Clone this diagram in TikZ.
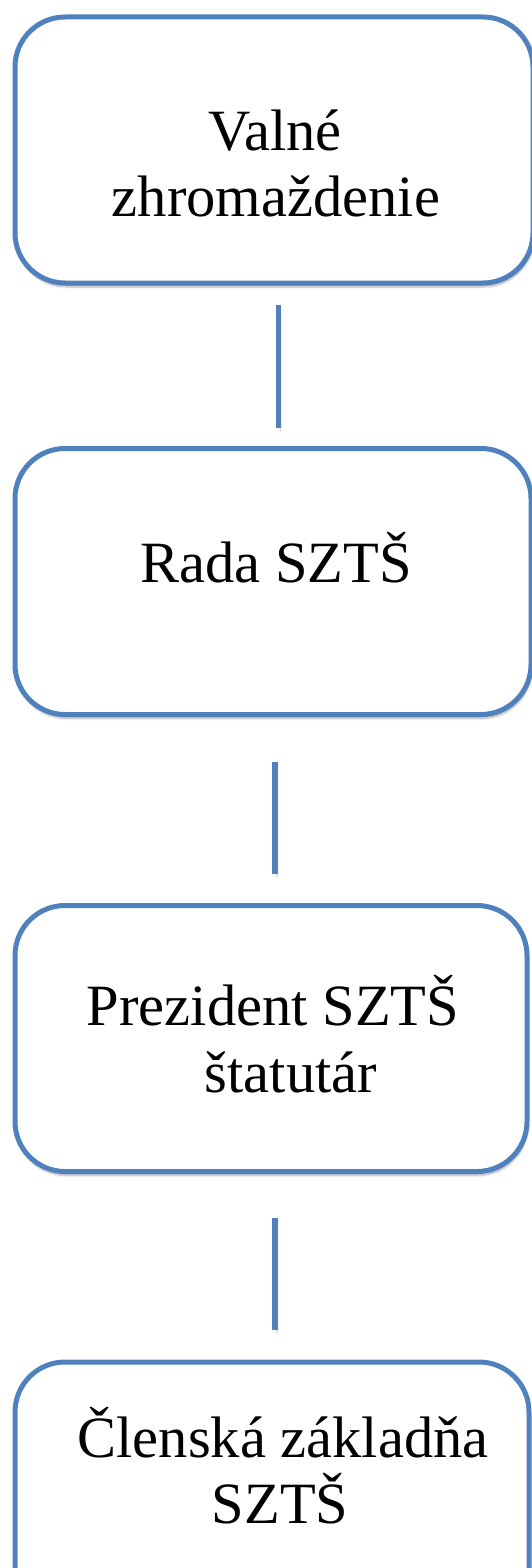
\documentclass[tikz,border=0pt]{standalone}
\usepackage{fontspec}
\setmainfont{Liberation Serif}
\usetikzlibrary{shadows.blur}
\definecolor{boxblue}{HTML}{4F81BD}
\begin{document}
\begin{tikzpicture}[x=1pt,y=-1pt,
  orgbox/.style={draw=boxblue, line width=5pt, fill=white, rounded corners=50pt,
    minimum height=266pt, inner sep=0pt,
    blur shadow={shadow xshift=1pt, shadow yshift=-4pt, shadow blur steps=6, shadow opacity=30}},
  lbl/.style={anchor=base, inner sep=0pt, font=\fontsize{58.5}{66}\selectfont},
  conn/.style={draw=boxblue, line width=5.3pt,
    blur shadow={shadow xshift=2pt, shadow yshift=-3pt, shadow blur steps=6, shadow opacity=25}}]
\useasboundingbox (0,0) rectangle (531,1568);
\node[orgbox, minimum width=518pt] (b1) at (274,150) {};
\node[orgbox, minimum width=516pt] (b2) at (273,581.5) {};
\node[orgbox, minimum width=512pt] (b3) at (271,1038.5) {};
\node[orgbox, minimum width=514pt] (b4) at (272,1495) {};
\node[lbl] (t1a) at (275,150) {Valné};
\node[lbl] (t1b) at (276,216) {zhromaždenie};
\node[lbl] (t2) at (276,582) {Rada SZTŠ};
\node[lbl] (t3a) at (273,1025) {Prezident SZTŠ};
\node[lbl] (t3b) at (291,1092) {štatutár};
\node[lbl] (t4a) at (283,1457) {Členská základňa};
\node[lbl] (t4b) at (280,1523) {SZTŠ};
\coordinate (l1a) at (278.5,305);
\coordinate (l1b) at (278.5,428);
\coordinate (l2a) at (275,762);
\coordinate (l2b) at (275,874);
\coordinate (l3a) at (275,1218);
\coordinate (l3b) at (275,1330);
\path[conn] (l1a) -- (l1b);
\path[conn] (l2a) -- (l2b);
\path[conn] (l3a) -- (l3b);
\end{tikzpicture}
\end{document}
